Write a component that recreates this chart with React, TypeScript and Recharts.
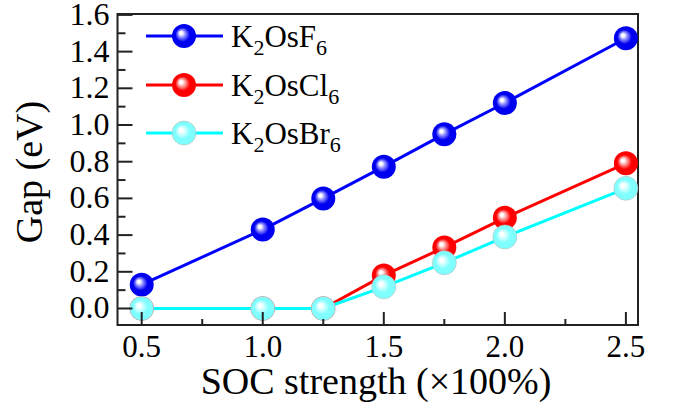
import { LineChart, Line, XAxis, YAxis, ReferenceArea, Label } from 'recharts'

const soc = [0.5, 1.0, 1.25, 1.5, 1.75, 2.0, 2.5]
const gapF6 = [0.13, 0.43, 0.6, 0.773, 0.95, 1.12, 1.473]
const gapCl6 = [0, 0, 0, 0.18, 0.333, 0.494, 0.791]
const gapBr6 = [0, 0, 0, 0.118, 0.249, 0.39, 0.655]

const xTicks = [0.5, 0.75, 1.0, 1.25, 1.5, 1.75, 2.0, 2.25, 2.5]
const xMajor = [0.5, 1.0, 1.5, 2.0, 2.5]
const yTicks = [0, 0.1, 0.2, 0.3, 0.4, 0.5, 0.6, 0.7, 0.8, 0.9, 1.0, 1.1, 1.2, 1.3, 1.4, 1.5, 1.6]
const yMajor = [0, 0.2, 0.4, 0.6, 0.8, 1.0, 1.2, 1.4, 1.6]

const data = soc.map((s, i) => ({
  soc: s,
  F6: gapF6[i],
  Cl6: gapCl6[i],
  Br6: gapBr6[i],
}))

const FONT = '"Liberation Serif", "Times New Roman", serif'
const FRAME = '#222'

const series = [
  { key: 'F6', halogen: 'F', line: '#0000ff', grad: 'gBlue' },
  { key: 'Cl6', halogen: 'Cl', line: '#ff0000', grad: 'gRed' },
  { key: 'Br6', halogen: 'Br', line: '#00ffff', grad: 'gCyan' },
]

const isMajor = (list: number[], v: number) => list.some((m) => Math.abs(m - v) < 1e-6)

const XTick = (props: any) => {
  const { x, y, payload } = props
  const major = isMajor(xMajor, payload.value)
  return (
    <g>
      <line x1={x} x2={x} y1={y} y2={y - (major ? 13 : 6)} stroke={FRAME} strokeWidth={2} />
      {major && (
        <text x={x} y={y + 32} textAnchor="middle" fontFamily={FONT} fontSize={31} fill="#000">
          {payload.value.toFixed(1)}
        </text>
      )}
    </g>
  )
}

const YTick = (props: any) => {
  const { x, y, payload } = props
  const major = isMajor(yMajor, payload.value)
  return (
    <g>
      <line x1={x} x2={x + (major ? 15 : 8)} y1={y} y2={y} stroke={FRAME} strokeWidth={2} />
      {major && (
        <text x={x - 8} y={y + 10} textAnchor="end" fontFamily={FONT} fontSize={32} fill="#000">
          {payload.value.toFixed(1)}
        </text>
      )}
    </g>
  )
}

const makeDot = (grad: string, stroke: string) => (props: any) => {
  const { cx, cy, key } = props
  return <circle key={key} cx={cx} cy={cy} r={12} fill={`url(#${grad})`} stroke={stroke} strokeWidth={0.6} />
}

const LegendBox = () => {
  const rows = [24, 73, 121]
  return (
    <svg width={230} height={150} style={{ position: 'absolute', left: 140, top: 12 }}>
      {series.map((s, i) => (
        <g key={s.key}>
          <line x1={6} x2={83} y1={rows[i]} y2={rows[i]} stroke={s.line} strokeWidth={3} />
          <circle cx={44} cy={rows[i]} r={12} fill={`url(#${s.grad})`} stroke={s.key === 'Br6' ? '#bbb' : 'none'} strokeWidth={0.6} />
          <text x={91} y={rows[i] + 11} fontFamily={FONT} fontSize={31} fill="#000">
            K<tspan fontSize={22} dy={8}>2</tspan>
            <tspan dy={-8}>Os{s.halogen}</tspan>
            <tspan fontSize={22} dy={8}>6</tspan>
          </text>
        </g>
      ))}
    </svg>
  )
}

const Grad = ({ id, mid, base }: { id: string; mid: string; base: string }) => (
  <radialGradient id={id} cx="0.5" cy="0.5" r="0.5" fx="0.36" fy="0.36">
    <stop offset="0" stopColor="#ffffff" />
    <stop offset="0.12" stopColor="#ffffff" />
    <stop offset="0.32" stopColor={mid} />
    <stop offset="0.6" stopColor={base} />
    <stop offset="1" stopColor={base} />
  </radialGradient>
)

export default function App() {
  return (
    <div style={{ position: 'absolute', left: 0, top: 0, width: 677, height: 404, background: '#fff' }}>
      <svg width={0} height={0} style={{ position: 'absolute' }}>
        <defs>
          <Grad id="gBlue" mid="#8a8aff" base="#0000f0" />
          <Grad id="gRed" mid="#ff9a9a" base="#ff0000" />
          <Grad id="gCyan" mid="#d0ffff" base="#80ffff" />
        </defs>
      </svg>
      <LineChart
        width={677}
        height={404}
        data={data}
        margin={{ top: 14, right: 39, bottom: 0, left: 0 }}
      >
        <XAxis
          dataKey="soc"
          type="number"
          domain={[0.4, 2.55]}
          ticks={xTicks}
          interval={0}
          height={79}
          axisLine={false}
          tickLine={false}
          tickSize={0}
          tickMargin={0}
          tick={<XTick />}
        >
          <Label
            content={() => (
              <text x={376} y={394} textAnchor="middle" fontFamily={FONT} fontSize={38} fill="#000">
                SOC strength (×100%)
              </text>
            )}
          />
        </XAxis>
        <YAxis
          type="number"
          domain={[-0.09, 1.605]}
          ticks={yTicks}
          interval={0}
          width={117.5}
          axisLine={false}
          tickLine={false}
          tickSize={0}
          tickMargin={0}
          tick={<YTick />}
        >
          <Label
            content={() => (
              <text
                x={42}
                y={172}
                transform="rotate(-90 42 172)"
                textAnchor="middle"
                fontFamily={FONT}
                fontSize={38}
                fill="#000"
              >
                Gap (eV)
              </text>
            )}
          />
        </YAxis>
        <ReferenceArea x1={0.4} x2={2.55} y1={-0.09} y2={1.605} fill="none" stroke={FRAME} strokeWidth={2} fillOpacity={0} />
        {series.map((s) => (
          <Line
            key={s.key}
            dataKey={s.key}
            type="linear"
            stroke={s.line}
            strokeWidth={3}
            dot={makeDot(s.grad, s.key === 'Br6' ? '#bbb' : 'none')}
            activeDot={false}
            isAnimationActive={false}
          />
        ))}
      </LineChart>
      <LegendBox />
    </div>
  )
}
